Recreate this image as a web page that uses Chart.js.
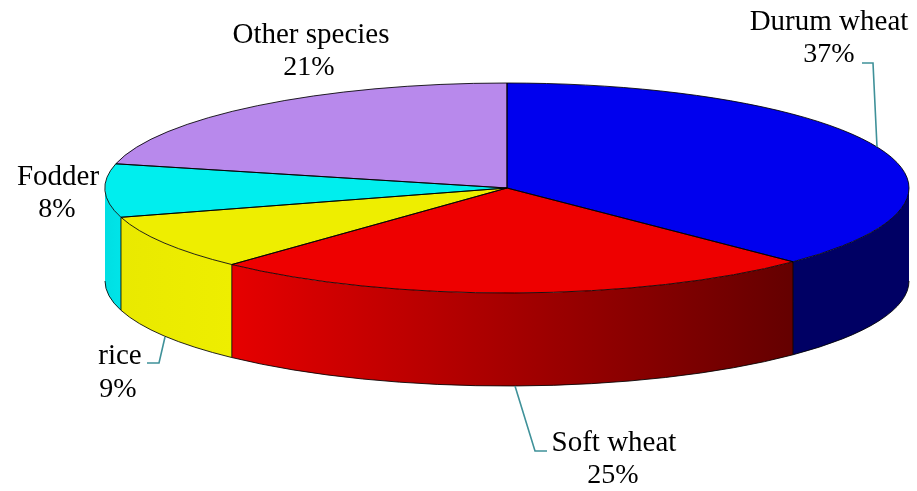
<!DOCTYPE html>
<html><head><meta charset="utf-8">
<style>html,body{margin:0;padding:0;background:#fff}canvas{display:block}</style>
<script src="https://cdn.jsdelivr.net/npm/chart.js@4"></script>
</head><body><canvas id="c" width="917" height="491"></canvas>
<script>
const categories = ["Durum wheat","Soft wheat","rice","Fodder","Other species"];
const shares = [37.4,24.6,8.5,8.2,21.3];
const topColors = ["#0000ee","#ee0000","#eeee00","#00eeee","#b889ec"];
const sideFrom = ["#000064","#e60000","#e9e900","#00dfe3","#8a66b0"];
const sideTo   = ["#000064","#640000","#eeee00","#00e4e8","#8a66b0"];

const G = {cx:507, cy:188, rx:402, ry:105, depth:93};
const labelPos = [[829,22,829,55],[614,443,613,476],[120,356,118,390],[58,177,57,210],[311,35,309,68]];
const leaders = [
  [[862,63],[873,63],[877,147]],
  [[515,386],[535,451],[547,451]],
  [[147,363],[159,363],[165,337]]
];
const OUTLINE = "rgba(0,0,0,0.85)";

const pie3d = {
  id:"pie3d",
  beforeDatasetsDraw(chart){
    const ctx = chart.ctx, arcs = chart.getDatasetMeta(0).data;
    // extruded side wall
    arcs.forEach((a,i)=>{
      const s = Math.max(a.startAngle,0), e = Math.min(a.endAngle,Math.PI);
      if(e<=s) return;
      const x0 = G.cx+G.rx*Math.cos(e), x1 = G.cx+G.rx*Math.cos(s);
      const g = ctx.createLinearGradient(x0,0,x1,0);
      g.addColorStop(0,sideFrom[i]); g.addColorStop(1,sideTo[i]);
      ctx.beginPath();
      ctx.ellipse(G.cx,G.cy,G.rx,G.ry,0,s,e);
      ctx.ellipse(G.cx,G.cy+G.depth,G.rx,G.ry,0,e,s,true);
      ctx.closePath();
      ctx.fillStyle = g; ctx.fill();
    });
    ctx.strokeStyle = OUTLINE; ctx.lineWidth = 1;
    arcs.forEach(a=>{
      const s = Math.max(a.startAngle,0), e = Math.min(a.endAngle,Math.PI);
      if(e<=s) return;
      ctx.beginPath();
      ctx.ellipse(G.cx,G.cy+G.depth,G.rx,G.ry,0,s,e);
      ctx.stroke();
      if(a.endAngle<Math.PI){
        const x = G.cx+G.rx*Math.cos(a.endAngle), y = G.cy+G.ry*Math.sin(a.endAngle);
        ctx.beginPath(); ctx.moveTo(x,y); ctx.lineTo(x,y+G.depth); ctx.stroke();
      }
    });
    // squash the library's own pie into the tilted ellipse
    const a0 = arcs[0], R = a0.outerRadius;
    ctx.save();
    ctx.translate(G.cx,G.cy);
    ctx.scale(G.rx/R,G.ry/R);
    ctx.translate(-a0.x,-a0.y);
  },
  afterDatasetsDraw(chart){
    const ctx = chart.ctx, arcs = chart.getDatasetMeta(0).data;
    ctx.restore();
    ctx.strokeStyle = OUTLINE; ctx.lineWidth = 1;
    arcs.forEach(a=>{
      ctx.beginPath();
      ctx.moveTo(G.cx,G.cy);
      ctx.ellipse(G.cx,G.cy,G.rx,G.ry,0,a.startAngle,a.endAngle);
      ctx.closePath();
      ctx.stroke();
    });
    ctx.strokeStyle = "#3f9199"; ctx.lineWidth = 1.6;
    leaders.forEach(l=>{
      ctx.beginPath();
      l.forEach((p,i)=> i?ctx.lineTo(p[0],p[1]):ctx.moveTo(p[0],p[1]));
      ctx.stroke();
    });
    ctx.fillStyle = "#000";
    ctx.textAlign = "center"; ctx.textBaseline = "middle";
    categories.forEach((c,i)=>{
      const p = labelPos[i];
      ctx.font = "29px 'Liberation Serif'";
      ctx.fillText(c,p[0],p[1]);
      ctx.font = "28px 'Liberation Serif'";
      ctx.fillText(Math.round(shares[i])+"%",p[2],p[3]);
    });
  }
};

new Chart(document.getElementById("c"),{
  type:"pie",
  data:{labels:categories,datasets:[{data:shares,backgroundColor:topColors,borderWidth:0}]},
  options:{
    responsive:false,animation:false,
    layout:{padding:0},
    plugins:{legend:{display:false},tooltip:{enabled:false},title:{display:false}}
  },
  plugins:[pie3d]
});
</script></body></html>
